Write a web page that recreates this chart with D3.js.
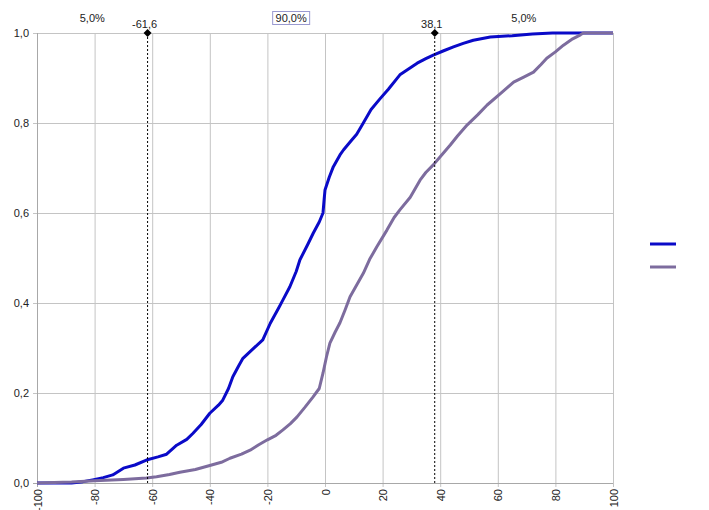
<!DOCTYPE html>
<html lang="en">
<head>
<meta charset="UTF-8">
<script src="https://cdn.jsdelivr.net/npm/d3@7"></script>
<style>
  body { margin: 0; background: #fff; }
  text { font-family: "Liberation Sans", Arial, sans-serif; font-size: 11px; fill: #222; }
</style>
</head>
<body>
<div id="chart"></div>
<script>
// cumulative curves
var blueX = [-100, -88, -84, -80.7, -77, -73.7, -70, -66, -62, -58, -55, -51.5, -48, -45.9, -43, -40, -37, -35.5, -33.5, -32, -30, -28.5, -25, -21.6, -19, -16, -14.6, -12.2, -10, -8.7, -6, -4.1, -2, -0.7, -0.3, 0, 1.5, 2.9, 5.2, 6.4, 9, 11, 13.3, 16, 19, 22, 26, 29, 32, 35, 37.6, 41, 44.6, 48, 51.5, 57.4, 65, 72, 79, 100];
var blueY = [0, 0, 0.003, 0.007, 0.012, 0.018, 0.033, 0.04, 0.051, 0.058, 0.064, 0.084, 0.097, 0.11, 0.13, 0.155, 0.173, 0.184, 0.21, 0.236, 0.26, 0.277, 0.298, 0.318, 0.355, 0.39, 0.407, 0.436, 0.47, 0.496, 0.53, 0.555, 0.58, 0.6, 0.63, 0.651, 0.68, 0.703, 0.729, 0.74, 0.76, 0.775, 0.8, 0.83, 0.853, 0.875, 0.907, 0.92, 0.933, 0.943, 0.951, 0.96, 0.969, 0.977, 0.984, 0.991, 0.994, 0.998, 1, 1];

var purpleX = [-100, -88, -80, -70, -62, -58.5, -54, -50.4, -45, -40, -36, -33, -29, -26, -23, -20, -17, -14.6, -12, -9.7, -7, -4.2, -2, -0.7, 0.5, 1.7, 3.5, 5.2, 7, 8.7, 11, 13.3, 15.5, 18, 21.5, 24, 26, 29.6, 33, 35, 37.6, 40, 43.5, 46, 49.4, 53, 56.3, 61, 65.5, 69, 72.4, 75, 77, 80, 82.8, 86, 88.7, 89.7, 100];
var purpleY = [0, 0.002, 0.005, 0.008, 0.011, 0.014, 0.019, 0.024, 0.03, 0.039, 0.046, 0.055, 0.064, 0.073, 0.085, 0.096, 0.106, 0.118, 0.132, 0.147, 0.168, 0.191, 0.21, 0.244, 0.28, 0.311, 0.335, 0.356, 0.385, 0.414, 0.44, 0.466, 0.497, 0.525, 0.562, 0.59, 0.607, 0.635, 0.673, 0.69, 0.707, 0.725, 0.751, 0.771, 0.796, 0.818, 0.84, 0.866, 0.891, 0.902, 0.913, 0.93, 0.944, 0.958, 0.973, 0.987, 0.996, 1, 1];

// delimiters and band labels
var cutValues = [-61.6, 38.1];
var cutLabels = ["-61,6", "38,1"];
var bandLabels = ["5,0%", "90,0%", "5,0%"];

var xTicks = [-100, -80, -60, -40, -20, 0, 20, 40, 60, 80, 100];
var yTicks = [0, 0.2, 0.4, 0.6, 0.8, 1.0];

var W = 709, H = 510;
var pLeft = 37, pRight = 613, pTop = 33, pBottom = 483;

var x = d3.scaleLinear().domain([-100, 100]).range([pLeft, pRight]);
var y = d3.scaleLinear().domain([0, 1]).range([pBottom, pTop]);

const svg = d3.select("#chart").append("svg")
  .attr("width", W)
  .attr("height", H);

// grid
svg.append("g").selectAll("line")
  .data(xTicks)
  .enter().append("line")
  .attr("x1", d => x(d) + 0.5).attr("x2", d => x(d) + 0.5)
  .attr("y1", pTop).attr("y2", pBottom + 4)
  .attr("stroke", "#c4c4c4");
svg.append("g").selectAll("line")
  .data(yTicks)
  .enter().append("line")
  .attr("x1", pLeft - 4).attr("x2", pRight)
  .attr("y1", d => y(d) + 0.5).attr("y2", d => y(d) + 0.5)
  .attr("stroke", "#c4c4c4");

// axis lines
svg.append("line")
  .attr("x1", pLeft + 0.5).attr("x2", pLeft + 0.5)
  .attr("y1", pTop).attr("y2", pBottom + 4)
  .attr("stroke", "#a8a8a8");
svg.append("line")
  .attr("x1", pLeft - 4).attr("x2", pRight)
  .attr("y1", pBottom + 0.5).attr("y2", pBottom + 0.5)
  .attr("stroke", "#a8a8a8");

// y labels
svg.append("g").selectAll("text")
  .data(yTicks)
  .enter().append("text")
  .attr("x", pLeft - 8)
  .attr("y", d => y(d) + 4)
  .attr("text-anchor", "end")
  .text(d => d3.format(".1f")(d).replace(".", ","));

// x labels, rotated
svg.append("g").selectAll("text")
  .data(xTicks)
  .enter().append("text")
  .attr("transform", d => "translate(" + (x(d) + 4.5) + "," + (pBottom + 6) + ") rotate(-90)")
  .attr("text-anchor", "end")
  .text(d => d);

// curves
var line = d3.line()
  .x(d => x(d[0]))
  .y(d => y(d[1]));

svg.append("path")
  .datum(d3.zip(blueX, blueY))
  .attr("d", line)
  .attr("fill", "none")
  .attr("stroke", "#0a0ac8")
  .attr("stroke-width", 3)
  .attr("stroke-linejoin", "round");

svg.append("path")
  .datum(d3.zip(purpleX, purpleY))
  .attr("d", line)
  .attr("fill", "none")
  .attr("stroke", "#7d6c9e")
  .attr("stroke-width", 3)
  .attr("stroke-linejoin", "round");

// delimiter lines
svg.append("g").selectAll("line")
  .data(cutValues)
  .enter().append("line")
  .attr("x1", d => x(d)).attr("x2", d => x(d))
  .attr("y1", pTop).attr("y2", pBottom)
  .attr("stroke", "#000")
  .attr("stroke-dasharray", "2,2");

svg.append("g").selectAll("path")
  .data(cutValues)
  .enter().append("path")
  .attr("d", "M0,-4L4,0L0,4L-4,0Z")
  .attr("transform", d => "translate(" + x(d) + "," + pTop + ")")
  .attr("fill", "#000");

svg.append("g").selectAll("text")
  .data(cutValues)
  .enter().append("text")
  .attr("x", d => x(d) - 3)
  .attr("y", pTop - 5)
  .attr("text-anchor", "middle")
  .text((d, i) => cutLabels[i]);

// band labels centred between the delimiters
var edges = [-100].concat(cutValues, [100]);
var bandX = bandLabels.map((d, i) => x((edges[i] + edges[i + 1]) / 2));

svg.append("rect")
  .attr("x", bandX[1] - 18.5).attr("y", 11.5)
  .attr("width", 37).attr("height", 13)
  .attr("fill", "none")
  .attr("stroke", "#9a9ad0");

svg.append("g").selectAll("text")
  .data(bandLabels)
  .enter().append("text")
  .attr("x", (d, i) => bandX[i])
  .attr("y", 22)
  .attr("text-anchor", "middle")
  .text(d => d);

// legend (no text)
var legendColors = ["#0a0ac8", "#7d6c9e"];
svg.append("g").selectAll("line")
  .data(legendColors)
  .enter().append("line")
  .attr("x1", 650).attr("x2", 676)
  .attr("y1", (d, i) => 244 + i * 23).attr("y2", (d, i) => 244 + i * 23)
  .attr("stroke", d => d)
  .attr("stroke-width", 3);
</script>
</body>
</html>
